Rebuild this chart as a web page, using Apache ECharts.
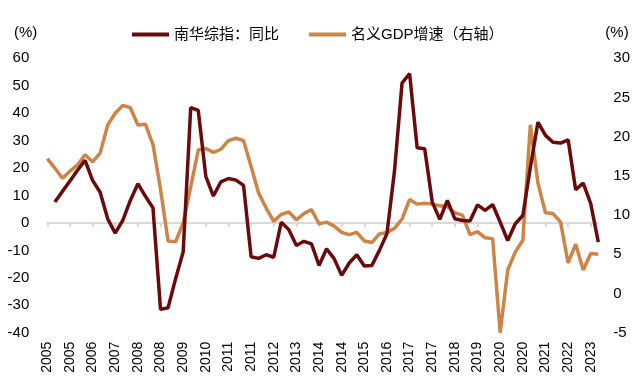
<!DOCTYPE html>
<html>
<head>
<meta charset="utf-8">
<script src="https://cdn.jsdelivr.net/npm/echarts@6/dist/echarts.min.js"></script>
<style>
html,body{margin:0;padding:0;background:#fff;}
#chart{width:640px;height:391px;}
</style>
</head>
<body>
<div id="chart"></div>
<script>
// Quarterly categories 2005Q1 .. 2023Q2
var quarters = [];
for (var y = 2005; y <= 2023; y++) {
  for (var q = 1; q <= 4; q++) {
    if (y === 2023 && q > 2) break;
    quarters.push(y + 'Q' + q);
  }
}

var seriesNames = ['南华综指：同比', '名义GDP增速（右轴）'];

// 南华综指：同比 (left axis, %)
var nanhuaYoY = [
  null, 7.6, 11.5, 15.3, 19.2, 22.8, 15.5, 11.2, 1.5, -3.7,
  0.9, 8.2, 14.3, 9.7, 5.5, -31.5, -30.9, -20.3, -10.6, 42.0,
  41.0, 17.0, 9.8, 15.0, 16.2, 15.6, 13.7, -12.3, -12.9, -11.6,
  -12.5, 0.3, -2.5, -8.2, -6.7, -7.6, -15.5, -9.4, -13.0, -19.1,
  -14.6, -11.6, -15.7, -15.5, -10.0, -3.9, 19.0, 51.0, 54.4, 27.4,
  27.0, 7.6, 1.3, 8.2, 1.5, 0.9, 0.7, 6.6, 4.6, 6.7,
  0.3, -6.4, -0.3, 2.7, 20.3, 36.7, 31.9, 29.4, 29.1, 30.3,
  12.1, 14.5, 7.0, -7.0
];

// 名义GDP增速 (right axis, %)
var nominalGDP = [
  17.2, 16.0, 14.7, 15.6, 16.4, 17.7, 16.8, 17.9, 21.5, 23.0,
  24.0, 23.7, 21.5, 21.6, 19.0, 13.3, 6.7, 6.6, 9.0, 13.6,
  18.3, 18.5, 18.0, 18.4, 19.5, 19.8, 19.5, 16.2, 12.8, 10.9,
  9.2, 10.1, 10.4, 9.4, 10.2, 10.7, 8.9, 9.1, 8.6, 7.8,
  7.5, 7.8, 6.7, 6.5, 7.6, 7.8, 8.3, 9.5, 12.0, 11.4,
  11.5, 11.4, 11.2, 11.1, 10.3, 10.0, 7.5, 7.9, 7.1, 7.0,
  -5.0, 3.0, 5.3, 6.8, 21.5, 14.1, 10.3, 10.2, 9.1, 3.9,
  6.3, 3.0, 5.1, 5.0
];

var leftAxis = {min: -40, max: 60, interval: 10, name: '(%)'};
var rightAxis = {min: -5, max: 30, interval: 5, name: '(%)'};

var FONT = "'Liberation Sans', Arial, 'Noto Sans CJK SC', sans-serif";
var BROWN = '#6B0A0A';
var ORANGE = '#CD8446';
var GRAY = '#D9D9D9';

var chart = echarts.init(document.getElementById('chart'), null, {renderer: 'canvas'});
chart.setOption({
  animation: false,
  backgroundColor: '#fff',
  textStyle: {fontFamily: FONT, color: '#000'},
  legend: {
    data: seriesNames,
    left: 127,
    top: 22,
    icon: 'rect',
    itemWidth: 37,
    itemHeight: 4,
    itemGap: 30,
    textStyle: {fontSize: 15, color: '#000', fontFamily: FONT}
  },
  grid: {left: 47.3, right: 41.7, top: 58.3, bottom: 58.3, containLabel: false},
  xAxis: [
    {
      type: 'category',
      data: quarters,
      boundaryGap: false,
      position: 'bottom',
      axisLine: {show: false, onZero: false},
      axisTick: {show: false},
      axisLabel: {
        interval: 2,
        rotate: 90,
        margin: 9,
        fontSize: 14,
        color: '#000',
        fontFamily: FONT,
        formatter: function (v) { return v.slice(0, 4); }
      },
      splitLine: {show: false}
    },
    {
      type: 'category',
      data: quarters,
      boundaryGap: false,
      position: 'top',
      axisLine: {show: true, onZero: true, onZeroAxisIndex: 0, lineStyle: {color: GRAY, width: 2}},
      axisTick: {show: true, interval: 2, length: 4, inside: true, lineStyle: {color: GRAY, width: 2}},
      axisLabel: {show: false},
      splitLine: {show: false}
    }
  ],
  yAxis: [
    {
      type: 'value',
      min: leftAxis.min, max: leftAxis.max, interval: leftAxis.interval,
      name: leftAxis.name,
      nameLocation: 'end',
      nameGap: 18,
      nameTextStyle: {fontSize: 15, color: '#000', align: 'right', padding: [0, 10, 0, 0], fontFamily: FONT},
      axisLine: {show: false},
      axisTick: {show: false},
      splitLine: {show: false},
      axisLabel: {fontSize: 15, color: '#000', margin: 18, fontFamily: FONT}
    },
    {
      type: 'value',
      position: 'right',
      min: rightAxis.min, max: rightAxis.max, interval: rightAxis.interval,
      name: rightAxis.name,
      nameLocation: 'end',
      nameGap: 18,
      nameTextStyle: {fontSize: 15, color: '#000', align: 'left', padding: [0, 0, 0, 7], fontFamily: FONT},
      axisLine: {show: false},
      axisTick: {show: false},
      splitLine: {show: false},
      axisLabel: {fontSize: 15, color: '#000', margin: 15, fontFamily: FONT}
    }
  ],
  series: [
    {
      name: seriesNames[0],
      type: 'line',
      xAxisIndex: 0,
      yAxisIndex: 0,
      data: nanhuaYoY,
      showSymbol: false,
      symbol: 'none',
      connectNulls: false,
      lineStyle: {color: BROWN, width: 3.5},
      itemStyle: {color: BROWN},
      z: 3
    },
    {
      name: seriesNames[1],
      type: 'line',
      xAxisIndex: 1,
      yAxisIndex: 1,
      data: nominalGDP,
      showSymbol: false,
      symbol: 'none',
      lineStyle: {color: ORANGE, width: 3.5},
      itemStyle: {color: ORANGE},
      z: 2
    }
  ]
});
</script>
</body>
</html>
